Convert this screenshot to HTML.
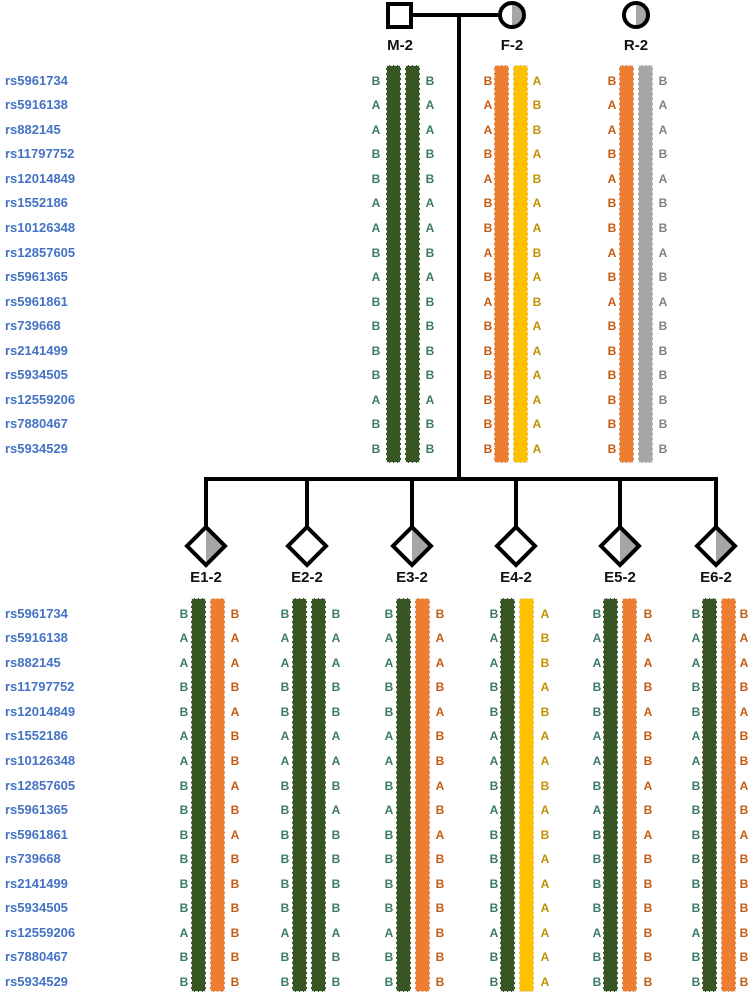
<!DOCTYPE html>
<html><head><meta charset="utf-8">
<style>
body{margin:0;width:749px;height:994px;background:#fff;position:relative;overflow:hidden;font-family:"Liberation Sans",Arial,sans-serif;font-weight:bold}
.t{position:absolute;font-size:12px;line-height:24.55px;text-align:center;width:14px}
.lab{position:absolute;left:5px;font-size:13px;line-height:24.55px;color:#4472c4}
.bar{position:absolute;width:13px;border:1px dashed #e8e8e8}
.g{background:#375623}.o{background:#ed7d31}.y{background:#ffc000}.gr{background:#a6a6a6}
.cg{color:#3a7a66}.co{color:#c55a11}.cy{color:#bf9000}.cgr{color:#808080}
.nm{position:absolute;font-size:15px;width:60px;text-align:center;color:#111}
</style></head><body>
<svg width="749" height="994" style="position:absolute;left:0;top:0">
<g stroke="#000" stroke-width="4" fill="none">
<line x1="411" y1="15" x2="498" y2="15"/>
<line x1="459" y1="15" x2="459" y2="479"/>
<line x1="204" y1="479" x2="718" y2="479"/>
<line x1="206" y1="479" x2="206" y2="527"/>
<line x1="307" y1="479" x2="307" y2="527"/>
<line x1="412" y1="479" x2="412" y2="527"/>
<line x1="516" y1="479" x2="516" y2="527"/>
<line x1="620" y1="479" x2="620" y2="527"/>
<line x1="716" y1="479" x2="716" y2="527"/>
</g>
<rect x="388" y="4" width="23" height="23" fill="#fff" stroke="#000" stroke-width="4"/>
<path d="M512 3 A12 12 0 0 1 512 27 Z" fill="#a6a6a6"/>
<circle cx="512" cy="15" r="12" fill="none" stroke="#000" stroke-width="4"/>
<path d="M636 3 A12 12 0 0 1 636 27 Z" fill="#a6a6a6"/>
<circle cx="636" cy="15" r="12" fill="none" stroke="#000" stroke-width="4"/>
<g stroke="#000" stroke-width="4" stroke-linejoin="miter">
<path d="M206 527 L225 546 L206 565 Z" fill="#a6a6a6" stroke="none"/>
<path d="M206 527 L225 546 L206 565 L187 546 Z" fill="none"/>
<path d="M307 527 L326 546 L307 565 L288 546 Z" fill="#fff"/>
<path d="M412 527 L431 546 L412 565 Z" fill="#a6a6a6" stroke="none"/>
<path d="M412 527 L431 546 L412 565 L393 546 Z" fill="none"/>
<path d="M516 527 L535 546 L516 565 L497 546 Z" fill="#fff"/>
<path d="M620 527 L639 546 L620 565 Z" fill="#a6a6a6" stroke="none"/>
<path d="M620 527 L639 546 L620 565 L601 546 Z" fill="none"/>
<path d="M716 527 L735 546 L716 565 Z" fill="#a6a6a6" stroke="none"/>
<path d="M716 527 L735 546 L716 565 L697 546 Z" fill="none"/>
</g>
</svg>
<div class="nm" style="left:370px;top:37px">M-2</div>
<div class="nm" style="left:482px;top:37px">F-2</div>
<div class="nm" style="left:606px;top:37px">R-2</div>
<div class="nm" style="left:176px;top:569px">E1-2</div>
<div class="nm" style="left:277px;top:569px">E2-2</div>
<div class="nm" style="left:382px;top:569px">E3-2</div>
<div class="nm" style="left:486px;top:569px">E4-2</div>
<div class="nm" style="left:590px;top:569px">E5-2</div>
<div class="nm" style="left:686px;top:569px">E6-2</div>

<div class="lab" style="top:68.7px">rs5961734<br>rs5916138<br>rs882145<br>rs11797752<br>rs12014849<br>rs1552186<br>rs10126348<br>rs12857605<br>rs5961365<br>rs5961861<br>rs739668<br>rs2141499<br>rs5934505<br>rs12559206<br>rs7880467<br>rs5934529</div>
<div class="lab" style="top:601.7px">rs5961734<br>rs5916138<br>rs882145<br>rs11797752<br>rs12014849<br>rs1552186<br>rs10126348<br>rs12857605<br>rs5961365<br>rs5961861<br>rs739668<br>rs2141499<br>rs5934505<br>rs12559206<br>rs7880467<br>rs5934529</div>

<!-- top bars -->
<div class="bar g" style="left:386px;top:65px;height:396px"></div>
<div class="bar g" style="left:405px;top:65px;height:396px"></div>
<div class="bar o" style="left:494px;top:65px;height:396px"></div>
<div class="bar y" style="left:513px;top:65px;height:396px"></div>
<div class="bar o" style="left:619px;top:65px;height:396px"></div>
<div class="bar gr" style="left:638px;top:65px;height:396px"></div>

<div class="t cg" style="left:369px;top:68.7px">B<br>A<br>A<br>B<br>B<br>A<br>A<br>B<br>A<br>B<br>B<br>B<br>B<br>A<br>B<br>B</div>
<div class="t cg" style="left:423px;top:68.7px">B<br>A<br>A<br>B<br>B<br>A<br>A<br>B<br>A<br>B<br>B<br>B<br>B<br>A<br>B<br>B</div>
<div class="t co" style="left:481px;top:68.7px">B<br>A<br>A<br>B<br>A<br>B<br>B<br>A<br>B<br>A<br>B<br>B<br>B<br>B<br>B<br>B</div>
<div class="t cy" style="left:530px;top:68.7px">A<br>B<br>B<br>A<br>B<br>A<br>A<br>B<br>A<br>B<br>A<br>A<br>A<br>A<br>A<br>A</div>
<div class="t co" style="left:605px;top:68.7px">B<br>A<br>A<br>B<br>A<br>B<br>B<br>A<br>B<br>A<br>B<br>B<br>B<br>B<br>B<br>B</div>
<div class="t cgr" style="left:656px;top:68.7px">B<br>A<br>A<br>B<br>A<br>B<br>B<br>A<br>B<br>A<br>B<br>B<br>B<br>B<br>B<br>B</div>

<!-- bottom bars -->
<div class="bar g" style="left:191px;top:598px;height:392px"></div>
<div class="bar o" style="left:210px;top:598px;height:392px"></div>
<div class="bar g" style="left:292px;top:598px;height:392px"></div>
<div class="bar g" style="left:311px;top:598px;height:392px"></div>
<div class="bar g" style="left:396px;top:598px;height:392px"></div>
<div class="bar o" style="left:415px;top:598px;height:392px"></div>
<div class="bar g" style="left:500px;top:598px;height:392px"></div>
<div class="bar y" style="left:519px;top:598px;height:392px"></div>
<div class="bar g" style="left:603px;top:598px;height:392px"></div>
<div class="bar o" style="left:622px;top:598px;height:392px"></div>
<div class="bar g" style="left:702px;top:598px;height:392px"></div>
<div class="bar o" style="left:721px;top:598px;height:392px"></div>

<div class="t cg" style="left:177px;top:601.7px">B<br>A<br>A<br>B<br>B<br>A<br>A<br>B<br>B<br>B<br>B<br>B<br>B<br>A<br>B<br>B</div>
<div class="t co" style="left:228px;top:601.7px">B<br>A<br>A<br>B<br>A<br>B<br>B<br>A<br>B<br>A<br>B<br>B<br>B<br>B<br>B<br>B</div>
<div class="t cg" style="left:278px;top:601.7px">B<br>A<br>A<br>B<br>B<br>A<br>A<br>B<br>B<br>B<br>B<br>B<br>B<br>A<br>B<br>B</div>
<div class="t cg" style="left:329px;top:601.7px">B<br>A<br>A<br>B<br>B<br>A<br>A<br>B<br>A<br>B<br>B<br>B<br>B<br>A<br>B<br>B</div>
<div class="t cg" style="left:382px;top:601.7px">B<br>A<br>A<br>B<br>B<br>A<br>A<br>B<br>A<br>B<br>B<br>B<br>B<br>A<br>B<br>B</div>
<div class="t co" style="left:433px;top:601.7px">B<br>A<br>A<br>B<br>A<br>B<br>B<br>A<br>B<br>A<br>B<br>B<br>B<br>B<br>B<br>B</div>
<div class="t cg" style="left:487px;top:601.7px">B<br>A<br>A<br>B<br>B<br>A<br>A<br>B<br>A<br>B<br>B<br>B<br>B<br>A<br>B<br>B</div>
<div class="t cy" style="left:538px;top:601.7px">A<br>B<br>B<br>A<br>B<br>A<br>A<br>B<br>A<br>B<br>A<br>A<br>A<br>A<br>A<br>A</div>
<div class="t cg" style="left:590px;top:601.7px">B<br>A<br>A<br>B<br>B<br>A<br>A<br>B<br>A<br>B<br>B<br>B<br>B<br>A<br>B<br>B</div>
<div class="t co" style="left:641px;top:601.7px">B<br>A<br>A<br>B<br>A<br>B<br>B<br>A<br>B<br>A<br>B<br>B<br>B<br>B<br>B<br>B</div>
<div class="t cg" style="left:689px;top:601.7px">B<br>A<br>A<br>B<br>B<br>A<br>A<br>B<br>B<br>B<br>B<br>B<br>B<br>A<br>B<br>B</div>
<div class="t co" style="left:737px;top:601.7px">B<br>A<br>A<br>B<br>A<br>B<br>B<br>A<br>B<br>A<br>B<br>B<br>B<br>B<br>B<br>B</div>
</body></html>
